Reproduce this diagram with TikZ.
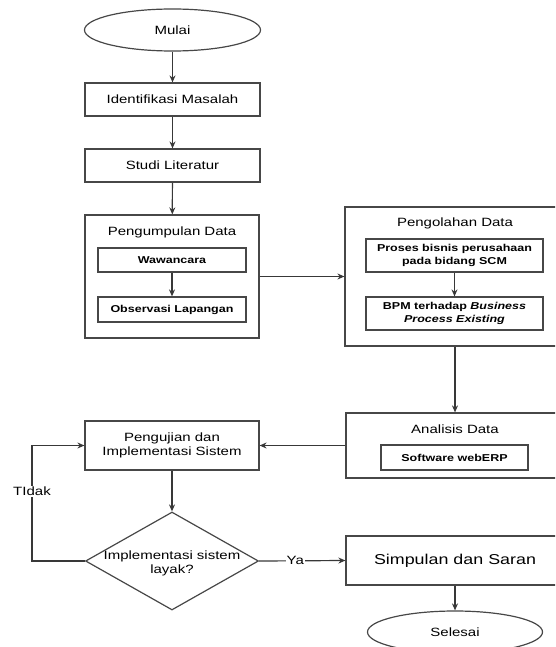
\documentclass[tikz,border=0pt]{standalone}
\usepackage{fontspec}
\setmainfont{Liberation Sans}[FakeStretch=1.25]
\usetikzlibrary{shapes.geometric,arrows.meta}
\begin{document}
\begin{tikzpicture}[x=1pt,y=-1pt,
  every node/.style={font=\fontsize{12}{14}\selectfont, align=center, inner sep=0pt},
  box/.style={draw=black!72, line width=1.2pt, rectangle, fill=white},
  inbox/.style={box, font=\fontsize{10}{13}\selectfont\bfseries},
  term/.style={draw=black!72, line width=1.2pt, ellipse, fill=white},
  cond/.style={draw=black!72, line width=1.2pt, diamond, aspect=1.77, fill=white},
  title/.style={},
  lbl/.style={fill=white, inner sep=1pt},
  arr/.style={draw=black!78, line width=1.2pt, -{Stealth[length=7pt,width=6pt]}}]
\useasboundingbox (0,0) rectangle (555,647);
\clip (0,0) rectangle (555,647);

% start and first steps
\node[term, minimum width=176pt, minimum height=42pt] (mulai) at (172.5,30) {Mulai};
\node[box, minimum width=175pt, minimum height=33pt] (ident) at (172.5,99.5) {Identifikasi Masalah};
\node[box, minimum width=175pt, minimum height=33pt] (studi) at (172.5,165.5) {Studi Literatur};

% data collection group
\node[box, minimum width=174pt, minimum height=123pt] (kumpul) at (172,276.5) {};
\node[title] (kumpulT) at (172,232) {Pengumpulan Data};
\node[inbox, minimum width=148pt, minimum height=24pt] (waw) at (172,260) {Wawancara};
\node[inbox, minimum width=148pt, minimum height=25pt] (obs) at (172,309.5) {Observasi Lapangan};

% data processing group
\node[box, minimum width=220pt, minimum height=139pt] (olah) at (455,276.5) {};
\node[title] (olahT) at (455,223) {Pengolahan Data};
\node[inbox, minimum width=177pt, minimum height=33pt] (proses) at (454.5,255.5) {Proses bisnis perusahaan\\pada bidang SCM};
\node[inbox, minimum width=177pt, minimum height=33pt] (bpm) at (454.5,313.5) {BPM terhadap \textit{Business}\\\textit{Process Existing}};

% data analysis group
\node[box, minimum width=218pt, minimum height=65pt] (analisis) at (455,445.5) {};
\node[title] (analisisT) at (455,429) {Analisis Data};
\node[inbox, minimum width=147pt, minimum height=25pt] (soft) at (454.5,457.5) {Software webERP};

% testing, decision and end
\node[box, minimum width=174pt, minimum height=49pt] (uji) at (172,445.5) {Pengujian dan\\Implementasi Sistem};
\node[cond, minimum width=173pt, minimum height=98pt] (cek) at (172,561) {};
\node (cekT) at (172,563) {Implementasi sistem\\layak?};
\node[box, minimum width=218pt, minimum height=49pt, font=\fontsize{14.3}{16}\selectfont] (simpul) at (455,560.5) {Simpulan dan Saran};
\node[term, minimum width=175pt, minimum height=42pt] (selesai) at (455,632) {Selesai};

\coordinate (loop) at (32,561);

% connectors
\draw[arr] (mulai) -- (ident);
\draw[arr] (ident) -- (studi);
\draw[arr] (studi) -- (kumpul);
\draw[arr] (waw) -- (obs);
\draw[arr] (kumpul.east) -- (olah.west);
\draw[arr] (proses) -- (bpm);
\draw[arr] (olah.south) -- (analisis.north);
\draw[arr] (analisis.west) -- (uji.east);
\draw[arr] (uji) -- (cek);
\draw[arr] (cek.west) -- (loop) |- node[lbl, pos=0.3] {TIdak} (uji.west);
\draw[arr] (cek.east) -- node[lbl, pos=0.42] {Ya} (simpul.west);
\draw[arr] (simpul) -- (selesai);
\end{tikzpicture}
\end{document}
